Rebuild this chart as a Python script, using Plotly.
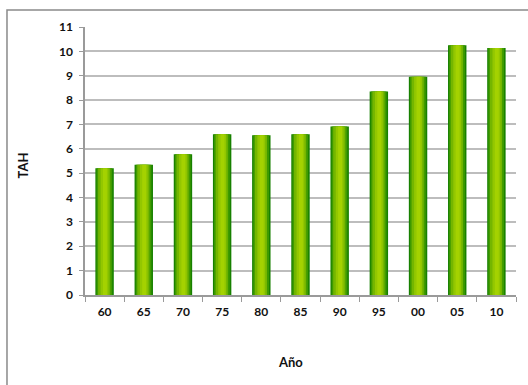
import plotly.graph_objects as go

# Años (dos dígitos) y valores de TAH
anios = ["60", "65", "70", "75", "80", "85", "90", "95", "00", "05", "10"]
tah = [5.2, 5.35, 5.78, 6.6, 6.56, 6.6, 6.92, 8.35, 8.96, 10.25, 10.14]
y_ticks = list(range(0, 12))

FONT = "Lato"

# Cylinder-like shading: stacked overlay bars, darker on the edges, lighter in the centre
layers = [
    (0.47, 0.0, "#178000"),
    (0.40, -0.005, "#3f9a00"),
    (0.31, -0.01, "#74b600"),
    (0.20, 0.0, "#93c700"),
    (0.10, 0.01, "#a4d200"),
]

fig = go.Figure()
for w, off, col in layers:
    fig.add_trace(go.Bar(
        x=anios,
        y=tah,
        width=w,
        offset=-w / 2 + off,
        marker=dict(color=col, line=dict(width=0)),
        hoverinfo="skip" if w < 0.47 else None,
        showlegend=False,
    ))

tick_font = dict(family=FONT, size=12, color="#111111", weight="bold")

fig.update_layout(
    width=528,
    height=385,
    margin=dict(l=85, r=12, t=27, b=90),
    paper_bgcolor="white",
    plot_bgcolor="white",
    barmode="overlay",
    font=dict(family=FONT, size=12, color="#111111"),
    xaxis=dict(
        type="category",
        showline=True,
        linecolor="#9a9a9a",
        linewidth=1.5,
        ticks="outside",
        tickson="boundaries",
        ticklen=5,
        tickcolor="#9a9a9a",
        tickfont=tick_font,
        ticklabelstandoff=5,
        showgrid=False,
    ),
    yaxis=dict(
        range=[0, 11],
        tickvals=y_ticks,
        showline=True,
        linecolor="#9a9a9a",
        linewidth=1.5,
        ticks="outside",
        ticklen=4,
        tickcolor="#9a9a9a",
        tickfont=tick_font,
        ticklabelstandoff=4,
        showgrid=True,
        gridcolor="#bdbdbd",
        gridwidth=1.5,
        zeroline=False,
    ),
    annotations=[
        dict(text="<b>Año</b>", xref="paper", yref="paper", x=0.476, y=-0.25,
             xanchor="center", yanchor="middle", showarrow=False,
             font=dict(family=FONT, size=13, color="#111111")),
        dict(text="<b>TAH</b>", xref="paper", yref="paper", x=-0.143, y=0.485,
             xanchor="center", yanchor="middle", textangle=-90, showarrow=False,
             font=dict(family=FONT, size=13, color="#111111")),
    ],
    shapes=[
        dict(type="rect", xref="paper", yref="paper",
             x0=-0.181, y0=-0.5, x1=1.2, y1=1.063,
             line=dict(color="#8a8a8a", width=1.5), layer="below"),
    ],
)

fig.write_html("out.html")
